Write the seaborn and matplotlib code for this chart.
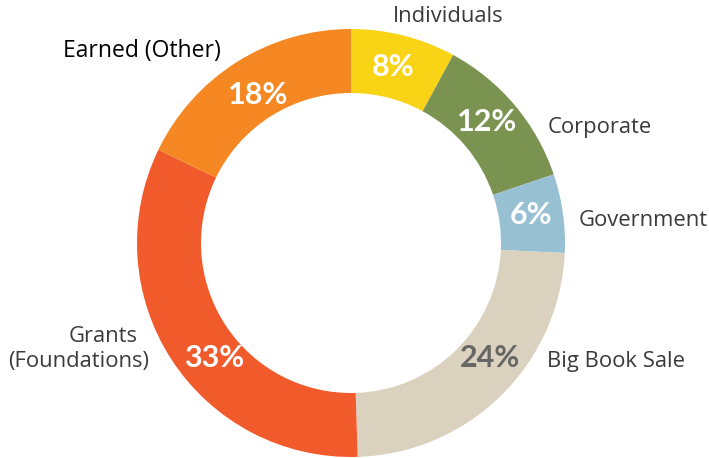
import matplotlib
matplotlib.use("Agg")
import matplotlib.pyplot as plt
import seaborn as sns

# data, clockwise from the top
sources = ["Individuals", "Corporate", "Government", "Big Book Sale",
           "Grants\n(Foundations)", "Earned (Other)"]
shares = [8, 12, 6, 24, 33, 18]
colors = ["#F9D416", "#7A9350", "#97C0D3", "#DAD2BE", "#F15A2B", "#F58823"]
pct_colors = ["white", "white", "white", "#666666", "white", "white"]

W, H = 709, 458
# layout in image pixels (x, y from top)
center = (351, 243)
radius = 214
pct_pos = [(393, 67), (487, 122), (531, 215), (490, 358), (214, 358), (258, 95)]
name_pos = [(448, 17, "center"), (548, 127, "left"), (579, 221, "left"),
            (547, 362, "left"), (149, 349, "right"), (221, 51, "right")]

sns.set_theme(style="white")
plt.rcParams["font.family"] = ["Open Sans", "DejaVu Sans"]

fig = plt.figure(figsize=(W / 100, H / 100), dpi=100)
ax = fig.add_axes([0, 0, 1, 1])

ax.pie(shares, colors=colors, startangle=90, counterclock=False,
       radius=radius, center=(center[0], H - center[1]),
       wedgeprops=dict(width=64, linewidth=0))
ax.set_xlim(0, W)
ax.set_ylim(0, H)
ax.set_aspect("equal")
ax.axis("off")

for s, c, (x, y) in zip(shares, pct_colors, pct_pos):
    ax.text(x, H - y, f"{s}%", color=c, fontsize=22, fontweight="bold",
            family=["Lato", "DejaVu Sans"], ha="center", va="center")

label_color = "#3a3a3a"
for name, (x, y, ha) in zip(sources, name_pos):
    if name == "Earned (Other)":
        ax.text(x, H - y, name, color="black", fontsize=16.5, ha=ha, va="center")
    elif "\n" in name:
        first, second = name.split("\n")
        ax.text(x - 11, H - 336, first, color=label_color, fontsize=15.8,
                ha=ha, va="center")
        ax.text(x, H - 362, second, color=label_color, fontsize=15.8,
                ha=ha, va="center")
    else:
        ax.text(x, H - y, name, color=label_color, fontsize=15.8, ha=ha, va="center")

fig.savefig("out.png", dpi=100)
